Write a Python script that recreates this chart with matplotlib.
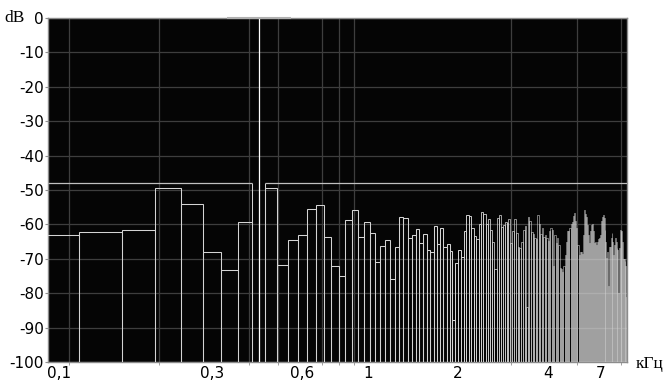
import numpy as np
import matplotlib
matplotlib.use('Agg')
import matplotlib.pyplot as plt
from matplotlib.ticker import FixedLocator, NullFormatter

# ---- data ----
bin_width_khz = 0.04307          # FFT bin spacing (44.1 kHz / 1024)
first_bin = 2
levels_db = [
    -63.0, -62.3, -61.7, -49.4, -54.0, -68.0, -73.3, -59.3, 0.0, -49.4,      # bins 2-11
    -71.8, -64.5, -63.0, -55.5, -54.4, -63.8, -72.0, -75.0, -58.7, -55.8,    # 12-21
    -63.8, -59.2, -62.5, -70.8, -66.4, -64.5, -76.0, -66.6, -57.8, -58.0,    # 22-31
    -64.0, -63.0, -61.3, -65.5, -62.8, -67.5, -68.0, -60.5, -65.7, -61.0,    # 32-41
    -66.5, -65.7, -67.8, -87.8, -71.3, -67.5, -69.6, -62.0, -57.4, -57.5,    # 42-51
    -61.0, -63.5, -64.3, -60.0, -56.5, -57.0, -60.0, -58.5, -61.6, -65.0,    # 52-61
    -73.0, -58.0, -57.3, -60.7, -60.2, -59.3, -59.5, -58.5, -65.4, -62.0,    # 62-71
    -58.5, -62.5, -66.5, -67.0, -65.0, -61.5, -60.5, -84.0, -57.8, -59.0,    # 72-81
    -62.3, -62.7, -64.0, -64.1, -57.3, -60.0, -62.7, -61.0, -63.6, -63.2,    # 82-91
    -64.0, -64.8, -61.9, -61.1, -61.5, -72.0, -63.0, -65.4, -64.0, -66.0,    # 92-101
    -72.8, -73.0, -73.8, -72.0, -68.9, -65.0, -61.9, -62.0, -61.0, -60.0,    # 102-111
    -59.3, -57.5, -56.8, -59.0, -61.0, -66.0, -68.9, -68.0, -68.0, -68.5,    # 112-121
    -63.0, -55.8, -57.0, -57.8, -60.2, -63.0, -65.4, -62.0, -60.2, -60.0,    # 122-131
    -62.0, -65.4, -65.0, -65.9, -65.0, -64.1, -64.0, -63.0, -59.0, -57.8,    # 132-141
    -57.2, -58.0, -61.6, -65.0, -69.9, -68.0, -78.0, -66.5, -66.5, -64.0,    # 142-151
    -62.6, -65.0, -68.9, -66.0, -64.0, -65.0, -67.0, -67.5, -80.0, -67.0,    # 152-161
    -61.6, -62.0, -62.0, -65.0, -70.2, -70.0, -70.5, -72.0, -81.0,           # 162-170
]
peak_bin = 10
ref_level_db = -48
peak_marker_ratio = 1.28

y_ticks = [-100, -90, -80, -70, -60, -50, -40, -30, -20, -10, 0]
y_labels = ['-100', '-90', '-80', '-70', '-60', '-50', '-40', '-30', '-20', '-10', '0']
x_tick_pos = [0.093, 0.3, 0.6, 1, 2, 4, 6]
x_tick_labels = ['0,1', '0,3', '0,6', '1', '2', '4', '7']
x_grid = [0.1, 0.2, 0.3, 0.4, 0.5, 0.6, 0.7, 0.8, 0.9, 1, 2, 3, 4, 5, 6, 7]
x_min, x_max = 0.08508, 7.348
y_min, y_max = -100, 0

# ---- figure ----
W, H = 665, 385
fig = plt.figure(figsize=(W / 100, H / 100), dpi=100)
fig.patch.set_facecolor('white')
ax_w_px = 627 - 48
ax = fig.add_axes([48 / W, 1 - 362 / H, ax_w_px / W, (362 - 18) / H])
ax.set_facecolor('#050505')
ax.set_xscale('log')
ax.set_xlim(x_min, x_max)
ax.set_ylim(y_min, y_max)

levels = np.array(levels_db)
bins = np.arange(first_bin, first_bin + len(levels))
left = (bins - 0.5) * bin_width_khz
mask = bins != peak_bin
# outline width shrinks where bins get narrower than a couple of pixels
px_per_decade = ax_w_px / np.log10(x_max / x_min)
bin_px = px_per_decade * np.log10((bins + 0.5) / (bins - 0.5))
lw = np.clip(0.26 * bin_px, 0.36, 0.75)
line_col = '#d4d4d4'
ax.bar(left[mask], levels[mask] - y_min, width=bin_width_khz, bottom=y_min,
       align='edge', fill=False, edgecolor=line_col, linewidth=lw[mask], zorder=3)

# peak bin and reference level
pl = (peak_bin - 0.5) * bin_width_khz
pr = (peak_bin + 0.5) * bin_width_khz
pc = peak_bin * bin_width_khz
ax.vlines([pl, pr], y_min, ref_level_db, colors=line_col, linewidth=0.75, zorder=3)
ax.hlines(ref_level_db, x_min, pl, colors='#c0c0c0', linewidth=0.9, zorder=3)
ax.hlines(ref_level_db, pr, x_max, colors='#c0c0c0', linewidth=0.9, zorder=3)
ax.vlines(pc, y_min, levels[peak_bin - first_bin], colors='white', linewidth=0.9, zorder=4)
ax.hlines(levels[peak_bin - first_bin], pc / peak_marker_ratio, pc * peak_marker_ratio,
          colors='#b0b0b0', linewidth=1.5, zorder=5, clip_on=False)

# grid
ax.set_axisbelow(True)
ax.xaxis.set_minor_locator(FixedLocator(x_grid))
ax.xaxis.set_minor_formatter(NullFormatter())
ax.set_xticks(x_tick_pos)
ax.set_xticklabels(x_tick_labels)
ax.set_yticks(y_ticks)
ax.set_yticklabels(y_labels)
ax.grid(which='minor', axis='x', color='#3e3e3e', linewidth=0.9)
ax.grid(which='major', axis='x', visible=False)
ax.grid(which='major', axis='y', color='#3e3e3e', linewidth=0.9)

ax.tick_params(axis='x', which='major', length=0, pad=3, labelsize=11, colors='black')
ax.tick_params(axis='x', which='minor', length=2, color='#909090')
ax.tick_params(axis='y', which='major', length=2, pad=1, labelsize=11, color='#909090',
               labelcolor='black')
for s in ax.spines.values():
    s.set_color('#8c8c8c')
    s.set_linewidth(1.0)

fig.text(15 / W, 1 - 18 / H, 'dB', family='Liberation Serif', fontsize=12.5,
         ha='center', va='center')
fig.text(650 / W, 1 - 364 / H, 'кГц', family='Liberation Serif', fontsize=12.5,
         ha='center', va='center')

fig.savefig('out.png', dpi=100, facecolor='white')
